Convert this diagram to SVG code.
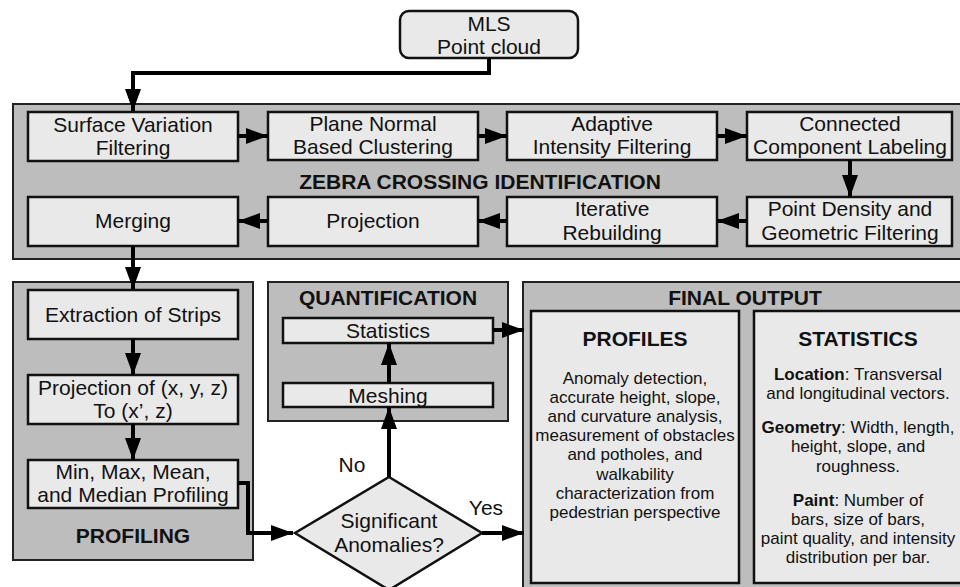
<svg xmlns="http://www.w3.org/2000/svg" width="960" height="587" viewBox="0 0 960 587">
<defs>
<marker id="ah" markerUnits="userSpaceOnUse" markerWidth="22" markerHeight="16" refX="22" refY="8" orient="auto">
<path d="M0,0 L22,8 L0,16 z" fill="#000"/>
</marker>
<style>
.grp{fill:#bdbdbd;stroke:#222;stroke-width:2}
.box{fill:#e9e9e9;stroke:#111;stroke-width:2.5}
.t{font-family:"Liberation Sans",Arial,sans-serif;font-size:21px;fill:#111;text-anchor:middle}
.tb{font-family:"Liberation Sans",Arial,sans-serif;font-size:21px;font-weight:bold;fill:#111;text-anchor:middle}
.s{font-family:"Liberation Sans",Arial,sans-serif;font-size:17px;fill:#111;text-anchor:middle}
.c{fill:none;stroke:#000;stroke-width:4}
</style>
</defs>
<rect width="960" height="587" fill="#fff"/>

<g id="mls">
<rect x="400" y="11" width="178" height="47" rx="9" class="box"/>
<text x="489" y="31" class="t">MLS</text>
<text x="489" y="54" class="t">Point cloud</text>
</g>

<g id="zebra">
<rect x="13" y="104" width="952" height="155" class="grp"/>
<text x="480" y="189" class="tb">ZEBRA CROSSING IDENTIFICATION</text>
</g>
<g id="surface"><rect x="28" y="112" width="210" height="49" class="box"/><text x="133" y="132" class="t">Surface Variation</text><text x="133" y="155" class="t">Filtering</text></g>
<g id="plane"><rect x="268" y="112" width="210" height="48" class="box"/><text x="373" y="131" class="t">Plane Normal</text><text x="373" y="154" class="t">Based Clustering</text></g>
<g id="adaptive"><rect x="507" y="112" width="210" height="48" class="box"/><text x="612" y="131" class="t">Adaptive</text><text x="612" y="154" class="t">Intensity Filtering</text></g>
<g id="connected"><rect x="747" y="112" width="205" height="48" class="box"/><text x="850" y="131" class="t">Connected</text><text x="850" y="154" class="t">Component Labeling</text></g>
<g id="merging"><rect x="28" y="197" width="210" height="49" class="box"/><text x="133" y="228" class="t">Merging</text></g>
<g id="projection"><rect x="268" y="197" width="210" height="49" class="box"/><text x="373" y="228" class="t">Projection</text></g>
<g id="iterative"><rect x="507" y="197" width="210" height="49" class="box"/><text x="612" y="216" class="t">Iterative</text><text x="612" y="240" class="t">Rebuilding</text></g>
<g id="density"><rect x="747" y="197" width="205" height="49" class="box"/><text x="850" y="216" class="t">Point Density and</text><text x="850" y="240" class="t">Geometric Filtering</text></g>

<g id="profiling">
<rect x="13" y="282" width="240" height="278" class="grp"/>
<text x="133" y="543" class="tb">PROFILING</text>
</g>
<g id="strips"><rect x="28" y="290" width="210" height="49" class="box"/><text x="133" y="322" class="t">Extraction of Strips</text></g>
<g id="projxyz"><rect x="28" y="375" width="210" height="49" class="box"/><text x="133" y="395" class="t">Projection of (x, y, z)</text><text x="133" y="418" class="t">To (x’, z)</text></g>
<g id="minmax"><rect x="28" y="460" width="210" height="48" class="box"/><text x="133" y="479" class="t">Min, Max, Mean,</text><text x="133" y="502" class="t">and Median Profiling</text></g>

<g id="quantification">
<rect x="268" y="282" width="240" height="139" class="grp"/>
<text x="388" y="305" class="tb">QUANTIFICATION</text>
</g>
<g id="statistics"><rect x="283" y="318" width="210" height="25" class="box"/><text x="388" y="338" class="t">Statistics</text></g>
<g id="meshing"><rect x="283" y="383" width="210" height="24" class="box"/><text x="388" y="403" class="t">Meshing</text></g>

<g id="decision">
<polygon points="389,477 482,533 389,590 295,533" class="box"/>
<text x="389" y="528" class="t">Significant</text>
<text x="389" y="552" class="t">Anomalies?</text>
</g>

<g id="final">
<rect x="523" y="282" width="445" height="310" class="grp"/>
<text x="745" y="305" class="tb">FINAL OUTPUT</text>
</g>
<g id="profiles">
<rect x="531" y="311" width="208" height="272" class="box"/>
<text x="635" y="346" class="tb">PROFILES</text>
<text x="635" y="384" class="s">Anomaly detection,</text>
<text x="635" y="403" class="s">accurate height, slope,</text>
<text x="635" y="422" class="s">and curvature analysis,</text>
<text x="635" y="441" class="s">measurement of obstacles</text>
<text x="635" y="460" class="s">and potholes, and</text>
<text x="635" y="480" class="s">walkability</text>
<text x="635" y="499" class="s">characterization from</text>
<text x="635" y="518" class="s">pedestrian perspective</text>
</g>
<g id="stats">
<rect x="754" y="311" width="210" height="272" class="box"/>
<text x="858" y="346" class="tb">STATISTICS</text>
<text x="858" y="380" class="s"><tspan font-weight="bold">Location</tspan>: Transversal</text>
<text x="858" y="399" class="s">and longitudinal vectors.</text>
<text x="858" y="433" class="s"><tspan font-weight="bold">Geometry</tspan>: Width, length,</text>
<text x="858" y="452" class="s">height, slope, and</text>
<text x="858" y="472" class="s">roughness.</text>
<text x="858" y="506" class="s"><tspan font-weight="bold">Paint</tspan>: Number of</text>
<text x="858" y="525" class="s">bars, size of bars,</text>
<text x="858" y="544" class="s">paint quality, and intensity</text>
<text x="858" y="563" class="s">distribution per bar.</text>
</g>

<g id="labels">
<text x="352" y="472" class="t">No</text>
<text x="486" y="515" class="t">Yes</text>
</g>

<g id="connectors">
<polyline points="489,58 489,73 133,73 133,111" class="c" marker-end="url(#ah)"/>
<line x1="238" y1="136" x2="268" y2="136" class="c" marker-end="url(#ah)"/>
<line x1="478" y1="136" x2="507" y2="136" class="c" marker-end="url(#ah)"/>
<line x1="717" y1="136" x2="747" y2="136" class="c" marker-end="url(#ah)"/>
<line x1="850" y1="160" x2="850" y2="197" class="c" marker-end="url(#ah)"/>
<line x1="747" y1="221" x2="717" y2="221" class="c" marker-end="url(#ah)"/>
<line x1="507" y1="221" x2="478" y2="221" class="c" marker-end="url(#ah)"/>
<line x1="268" y1="221" x2="238" y2="221" class="c" marker-end="url(#ah)"/>
<line x1="133" y1="246" x2="133" y2="289" class="c" marker-end="url(#ah)"/>
<line x1="133" y1="339" x2="133" y2="375" class="c" marker-end="url(#ah)"/>
<line x1="133" y1="424" x2="133" y2="460" class="c" marker-end="url(#ah)"/>
<polyline points="238,483 248,483 248,533 293,533" class="c" marker-end="url(#ah)"/>
<line x1="389" y1="477" x2="389" y2="407" class="c" marker-end="url(#ah)"/>
<line x1="389" y1="383" x2="389" y2="343" class="c" marker-end="url(#ah)"/>
<line x1="493" y1="330" x2="524" y2="330" class="c" marker-end="url(#ah)"/>
<line x1="482" y1="533" x2="524" y2="533" class="c" marker-end="url(#ah)"/>
</g>
</svg>
